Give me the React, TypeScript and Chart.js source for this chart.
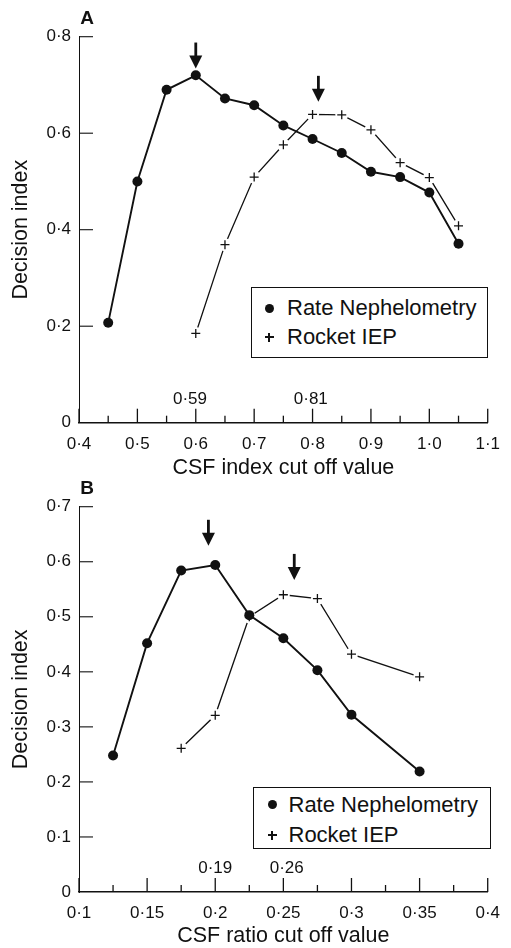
import React, { useEffect, useRef } from 'react';
import { Chart, registerables } from 'chart.js';
Chart.register(...registerables);

// ---------- Panel A: CSF index ----------
const cutoffRateA = [0.45, 0.5, 0.55, 0.6, 0.65, 0.7, 0.75, 0.8, 0.85, 0.9, 0.95, 1.0, 1.05];
const rateA = [0.207, 0.5, 0.69, 0.72, 0.672, 0.658, 0.616, 0.588, 0.559, 0.52, 0.509, 0.477, 0.371];
const cutoffRocketA = [0.6, 0.65, 0.7, 0.75, 0.8, 0.85, 0.9, 0.95, 1.0, 1.05];
const rocketA = [0.185, 0.369, 0.509, 0.576, 0.639, 0.638, 0.607, 0.539, 0.508, 0.408];
const arrowXA = [0.6, 0.81];
const arrowTipA = [0.734, 0.665];
const noteTextA = ['0·59', '0·81'];
const noteXA = [0.59, 0.797];
const noteYA = [0.048, 0.048];

// ---------- Panel B: CSF ratio ----------
const cutoffRateB = [0.125, 0.15, 0.175, 0.2, 0.225, 0.25, 0.275, 0.3, 0.35];
const rateB = [0.248, 0.452, 0.584, 0.594, 0.503, 0.461, 0.403, 0.322, 0.219];
const cutoffRocketB = [0.175, 0.2, 0.225, 0.25, 0.275, 0.3, 0.35];
const rocketB = [0.261, 0.321, 0.5, 0.54, 0.533, 0.432, 0.391];
const arrowXB = [0.195, 0.258];
const arrowTipB = [0.629, 0.567];
const noteTextB = ['0·19', '0·26'];
const noteXB = [0.2, 0.2525];
const noteYB = [0.0436, 0.0436];

const seriesNames = ['Rate Nephelometry', 'Rocket IEP'];
const yTitle = 'Decision index';
const xTitleA = 'CSF index cut off value';
const xTitleB = 'CSF ratio cut off value';

const FONT = "'Liberation Sans', Arial, Helvetica, sans-serif";
const INK = '#111';

const dot = (s: string) => s.replace('.', '·');

type Panel = {
  letter: string;
  rx: number[]; ry: number[]; kx: number[]; ky: number[];
  xMin: number; xMax: number; xStep: number; yMax: number; yStep: number;
  xFmt: (v: number) => string;
  yFmt: (v: number) => string;
  xTitle: string;
  arrowX: number[]; arrowTip: number[];
  noteText: string[]; noteX: number[]; noteY: number[];
  height: number; padTop: number; padRight: number; xHeight: number;
};

const panelA: Panel = {
  letter: 'A', rx: cutoffRateA, ry: rateA, kx: cutoffRocketA, ky: rocketA,
  xMin: 0.4, xMax: 1.1, xStep: 0.05, yMax: 0.8, yStep: 0.2,
  xFmt: (v) => { const r = Math.round(v * 100); return r % 10 === 0 ? dot((r / 100).toFixed(1)) : ''; },
  yFmt: (v) => (Math.abs(v) < 1e-9 ? '0' : dot(v.toFixed(1))),
  xTitle: xTitleA,
  arrowX: arrowXA, arrowTip: arrowTipA, noteText: noteTextA, noteX: noteXA, noteY: noteYA,
  height: 480, padTop: 36.7, padRight: 13, xHeight: 57.3,
};

const panelB: Panel = {
  letter: 'B', rx: cutoffRateB, ry: rateB, kx: cutoffRocketB, ky: rocketB,
  xMin: 0.1, xMax: 0.4, xStep: 0.025, yMax: 0.7, yStep: 0.1,
  xFmt: (v) => { const r = Math.round(v * 1000); return r % 50 === 0 ? dot(String(r / 1000)) : ''; },
  yFmt: (v) => (Math.abs(v) < 1e-9 ? '0' : dot(v.toFixed(1))),
  xTitle: xTitleB,
  arrowX: arrowXB, arrowTip: arrowTipB, noteText: noteTextB, noteX: noteXB, noteY: noteYB,
  height: 468, padTop: 26.7, padRight: 12.7, xHeight: 56,
};

function buildChart(canvas: HTMLCanvasElement, p: Panel) {
  const ratePts = p.rx.map((x, i) => ({ x, y: p.ry[i] }));
  const rocketPts = p.kx.map((x, i) => ({ x, y: p.ky[i] }));

  const decor = {
    id: 'decor' + p.letter,
    afterDatasetsDraw(chart: any) {
      const { ctx, chartArea } = chart;
      const xs = chart.scales.x;
      const ys = chart.scales.y;
      ctx.save();
      ctx.strokeStyle = INK;
      ctx.lineWidth = 1.3;
      xs.ticks.forEach((t: any) => {
        const px = xs.getPixelForValue(t.value);
        const len = t.label !== '' ? 14 : 7;
        ctx.beginPath();
        ctx.moveTo(px, chartArea.bottom);
        ctx.lineTo(px, chartArea.bottom - len);
        ctx.stroke();
      });
      ctx.lineWidth = 1.1;
      ys.ticks.forEach((t: any) => {
        if (Math.abs(t.value) < 1e-9) return;
        const py = ys.getPixelForValue(t.value);
        ctx.beginPath();
        ctx.moveTo(chartArea.left, py);
        ctx.lineTo(chartArea.left + 14, py);
        ctx.stroke();
      });
      // arrows
      ctx.fillStyle = INK;
      p.arrowX.forEach((ax, i) => {
        const px = xs.getPixelForValue(ax);
        const tip = ys.getPixelForValue(p.arrowTip[i]);
        const top = tip - 26;
        ctx.lineWidth = 2.8;
        ctx.beginPath();
        ctx.moveTo(px, top);
        ctx.lineTo(px, tip - 10);
        ctx.stroke();
        ctx.beginPath();
        ctx.moveTo(px - 6.5, tip - 13);
        ctx.lineTo(px + 6.5, tip - 13);
        ctx.lineTo(px, tip);
        ctx.closePath();
        ctx.fill();
      });
      // notes
      ctx.font = `17px ${FONT}`;
      ctx.textAlign = 'center';
      ctx.textBaseline = 'middle';
      p.noteText.forEach((s, i) => {
        ctx.fillText(s, xs.getPixelForValue(p.noteX[i]), ys.getPixelForValue(p.noteY[i]));
      });
      // panel letter
      ctx.font = `bold 19px ${FONT}`;
      ctx.fillText(p.letter, chartArea.left + 8, chartArea.top - 18);
      ctx.restore();
    },
  };

  return new Chart(canvas, {
    type: 'line',
    data: {
      datasets: [
        { label: 'rocket-line', data: rocketPts, borderColor: INK, borderWidth: 1.3, pointRadius: 0, fill: false, tension: 0, order: 4 } as any,
        { label: 'rocket-gap', data: rocketPts, showLine: false, pointRadius: 6.5, pointBackgroundColor: '#fff', pointBorderColor: '#fff', pointBorderWidth: 0, order: 3 },
        { label: seriesNames[1], data: rocketPts, showLine: false, pointStyle: 'cross', pointRadius: 4.5, pointBorderColor: INK, pointBorderWidth: 1.3, order: 2 },
        { label: seriesNames[0], data: ratePts, borderColor: INK, borderWidth: 1.9, pointRadius: 5, pointBackgroundColor: INK, pointBorderColor: INK, pointBorderWidth: 0, fill: false, tension: 0, order: 1 },
      ],
    },
    options: {
      responsive: false,
      animation: false,
      devicePixelRatio: 1,
      layout: { padding: { top: p.padTop, right: p.padRight, left: 0, bottom: 0 } },
      plugins: { legend: { display: false }, tooltip: { enabled: false } },
      scales: {
        x: {
          type: 'linear', min: p.xMin, max: p.xMax,
          grid: { display: false, drawTicks: false },
          border: { display: true, color: INK, width: 1.6 },
          ticks: { stepSize: p.xStep, autoSkip: false, maxRotation: 0, minRotation: 0, padding: 11, color: INK, font: { family: FONT, size: 17 }, callback: (v: any) => p.xFmt(Number(v)) },
          title: { display: true, text: p.xTitle, color: INK, font: { family: FONT, size: 21.5, lineHeight: 1 }, padding: { top: 0, bottom: 1.5 } },
          afterFit: (s: any) => { s.height = p.xHeight; },
        },
        y: {
          type: 'linear', min: 0, max: p.yMax,
          grid: { display: false, drawTicks: false },
          border: { display: true, color: INK, width: 1 },
          ticks: { stepSize: p.yStep, padding: 8, color: INK, font: { family: FONT, size: 17 }, callback: (v: any) => p.yFmt(Number(v)) },
          title: { display: true, text: yTitle, color: INK, font: { family: FONT, size: 21.5, lineHeight: 1 }, padding: { top: 10, bottom: 0 } },
          afterFit: (s: any) => { s.width = 79; },
        },
      },
    },
    plugins: [decor],
  } as any);
}

function LegendBox(props: { left: number; top: number; width: number; height: number; markX: number; textX: number; rowY: number[] }) {
  const { left, top, width, height, markX, textX, rowY } = props;
  const rowStyle = (cy: number): React.CSSProperties => ({ position: 'absolute', left: textX - left, top: cy - top - 12, height: 24, lineHeight: '24px', fontSize: 22, fontFamily: FONT, color: INK, whiteSpace: 'nowrap' });
  return (
    <div style={{ position: 'absolute', left, top, width, height, border: '1.3px solid #111', boxSizing: 'border-box', background: '#fff' }}>
      <div style={{ position: 'absolute', left: markX - left - 4.5, top: rowY[0] - top - 4.5, width: 9, height: 9, borderRadius: '50%', background: INK }} />
      <div style={rowStyle(rowY[0])}>{seriesNames[0]}</div>
      <div style={{ position: 'absolute', left: markX - left - 4.5, top: rowY[1] - top - 0.65, width: 9, height: 1.3, background: INK }} />
      <div style={{ position: 'absolute', left: markX - left - 0.65, top: rowY[1] - top - 4.5, width: 1.3, height: 9, background: INK }} />
      <div style={rowStyle(rowY[1])}>{seriesNames[1]}</div>
    </div>
  );
}

export default function App() {
  const refA = useRef<HTMLCanvasElement>(null);
  const refB = useRef<HTMLCanvasElement>(null);
  useEffect(() => {
    const a = buildChart(refA.current!, panelA);
    const b = buildChart(refB.current!, panelB);
    return () => { a.destroy(); b.destroy(); };
  }, []);
  return (
    <div style={{ position: 'absolute', left: 0, top: 0, width: 511, height: 948, background: '#fff', overflow: 'hidden' }}>
      <canvas ref={refA} width={511} height={panelA.height} style={{ position: 'absolute', left: 0, top: 0, width: 511, height: panelA.height }} />
      <canvas ref={refB} width={511} height={panelB.height} style={{ position: 'absolute', left: 0, top: panelA.height, width: 511, height: panelB.height }} />
      <LegendBox left={251} top={287} width={237} height={71} markX={268} textX={286} rowY={[307, 336]} />
      <LegendBox left={253} top={787} width={238} height={62} markX={271} textX={287.5} rowY={[803.5, 834]} />
    </div>
  );
}
